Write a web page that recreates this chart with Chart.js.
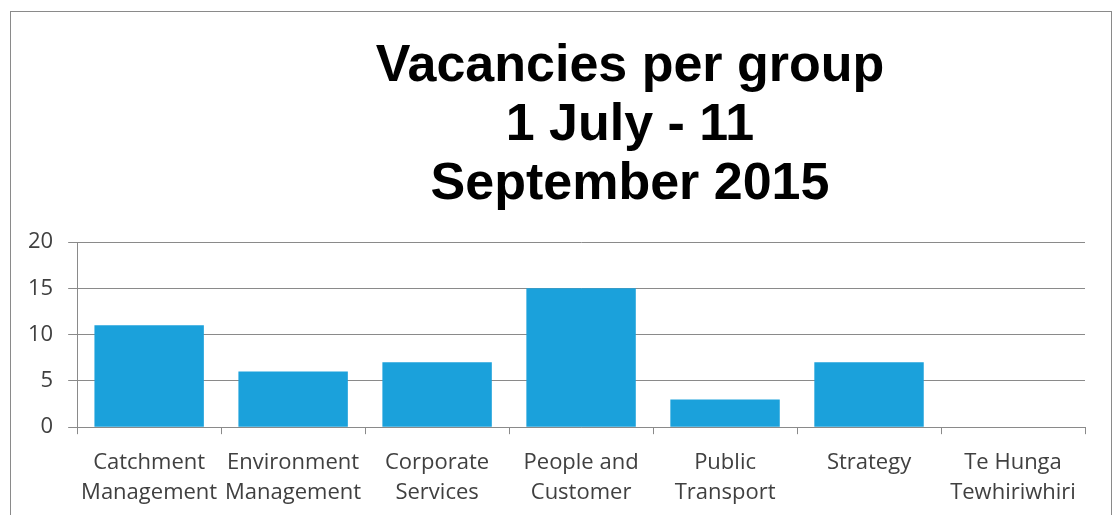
<!DOCTYPE html>
<html>
<head>
<meta charset="utf-8">
<script src="https://cdn.jsdelivr.net/npm/chart.js@4/dist/chart.umd.min.js"></script>
<style>
  html, body { margin: 0; padding: 0; background: #fff; }
  #wrap { position: relative; width: 1116px; height: 515px; overflow: hidden; }
  #frame { position: absolute; left: 10px; top: 11px; width: 1102px; height: 520px; border: 1px solid #8a8a8a; box-sizing: border-box; }
  #title { position: absolute; left: 330px; width: 600px; top: 34px; text-align: center;
           font: bold 52px "Liberation Sans", Arial, sans-serif; line-height: 59px; color: #000; }
  canvas { position: absolute; left: 0; top: 0; }
</style>
</head>
<body>
<div id="wrap">
  <div id="frame"></div>
  <canvas id="vacChart" width="1116" height="515"></canvas>
  <div id="title">Vacancies per group<br>1 July - 11<br>September 2015</div>
</div>
<script>
// categorias e valores
const groups = [
  ['Catchment', 'Management'],
  ['Environment', 'Management'],
  ['Corporate', 'Services'],
  ['People and', 'Customer'],
  ['Public', 'Transport'],
  ['Strategy'],
  ['Te Hunga', 'Tewhiriwhiri']
];
const vacancies = [11, 6, 7, 15, 3, 7, 0];
const yTicks = [0, 5, 10, 15, 20];

const ctx = document.getElementById('vacChart').getContext('2d');
new Chart(ctx, {
  type: 'bar',
  data: {
    labels: groups,
    datasets: [{
      label: 'Vacancies',
      data: vacancies,
      backgroundColor: '#1ba1db',
      borderWidth: 0,
      barPercentage: 0.76,
      categoryPercentage: 1
    }]
  },
  options: {
    responsive: false,
    animation: false,
    layout: { padding: { top: 242, left: 13, right: 31, bottom: -7 } },
    plugins: {
      legend: { display: false },
      title: { display: false },
      tooltip: { enabled: false }
    },
    scales: {
      y: {
        min: 0,
        max: 20,
        afterBuildTicks: axis => { axis.ticks = yTicks.map(v => ({ value: v })); },
        border: { color: '#8a8a8a', width: 1 },
        grid: { color: '#8a8a8a', lineWidth: 1, tickLength: 9 },
        ticks: {
          color: '#404040',
          padding: 15,
          font: { family: '"Open Sans"', size: 22 }
        }
      },
      x: {
        border: { color: '#8a8a8a', width: 1 },
        grid: { color: '#8a8a8a', drawOnChartArea: false, tickLength: 7 },
        ticks: {
          color: '#404040',
          maxRotation: 0,
          autoSkip: false,
          padding: 14,
          font: { family: '"Open Sans"', size: 22, lineHeight: 1.36 }
        }
      }
    }
  }
});
</script>
</body>
</html>
